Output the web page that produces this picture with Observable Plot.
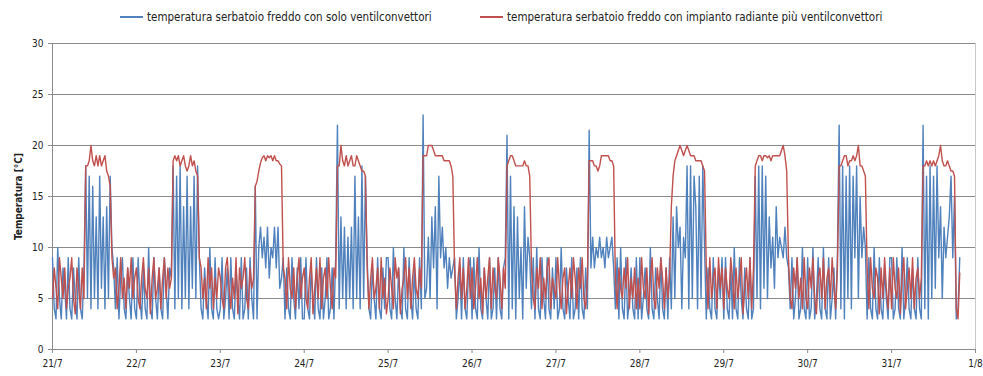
<!DOCTYPE html>
<html>
<head>
<meta charset="utf-8">
<script src="https://cdn.jsdelivr.net/npm/d3@7"></script>
<script src="https://cdn.jsdelivr.net/npm/@observablehq/plot@0.6"></script>
<style>
  html, body { margin: 0; padding: 0; background: #fff; }
  #wrap { position: relative; width: 983px; height: 376px; font-family: "Liberation Sans Narrow", "DejaVu Sans Condensed", sans-serif; }
  #legend { position: relative; height: 30px; width: 983px; font-size: 11.5px; color: #222; }
  .item { position: absolute; top: 10px; display: flex; align-items: center; white-space: nowrap; }
  .swatch { display: inline-block; width: 23px; height: 2px; margin-right: 4px; }
  #chart svg { display: block; }
</style>
</head>
<body>
<div id="wrap">
  <div id="legend"></div>
  <div id="chart"></div>
</div>
<script>
// Series names
const seriesNames = [
  "temperatura serbatoio freddo con solo ventilconvettori",
  "temperatura serbatoio freddo con impianto radiante più ventilconvettori"
];
const seriesColors = ["#4F81BD", "#C0504D"];

// x tick labels (one per day, 21/7 .. 1/8)
const tickLabels = ["21/7","22/7","23/7","24/7","25/7","26/7","27/7","28/7","29/7","30/7","31/7","1/8"];
const yTicks = [0, 5, 10, 15, 20, 25, 30];

// Half-hourly readings starting 21/7 00:00 (°C)
// blue: solo ventilconvettori
const blue = [
  // 21/7
  9,4,3,10,5,3,8,6,3,9,4,3,8,5,3,9,4,3,8,
  18,5,17,4,16,5,13,4,17,6,13,4,14,5,17,
  10,8,4,9,3,7,9,4,3,8,5,3,9,4,
  // 22/7
  3,9,5,3,8,4,3,10,4,3,9,5,3,8,4,3,9,6,3,8,7,
  18,4,17,5,18,4,14,5,17,4,14,6,17,5,18,
  9,4,3,8,5,3,10,4,3,9,4,3,
  // 23/7
  4,9,3,5,8,3,9,4,3,8,5,3,9,3,4,8,3,9,5,3,
  16,3,10,12,9,11,8,12,7,10,9,12,8,12,6,7,
  9,3,8,4,3,9,5,3,8,4,9,3,
  // 24/7
  3,9,4,3,8,5,3,9,4,3,8,3,5,9,3,4,8,3,9,
  22,4,13,5,12,4,11,5,12,4,17,5,13,4,18,5,17,
  9,4,3,8,5,3,9,4,3,8,4,9,
  // 25/7
  9,4,3,10,5,3,8,4,3,10,4,3,9,5,3,8,4,3,9,4,
  23,5,6,11,5,13,8,14,4,17,9,12,8,10,6,9,7,8,
  9,3,5,8,3,9,4,3,8,9,
  // 26/7
  3,9,4,3,10,4,3,8,5,3,9,3,4,8,3,9,4,3,8,9,
  21,3,17,4,14,3,13,5,10,3,14,6,11,9,
  4,9,3,10,4,3,9,5,3,9,4,3,8,4,
  // 27/7
  9,3,4,10,4,3,8,5,3,9,3,4,8,3,9,4,3,8,4,
  21.5,8,11,8,10,9,11,9,10,8,11,9,10,11,8,
  4,9,3,10,4,3,9,3,5,8,4,3,9,3,
  // 28/7
  9,3,5,8,4,3,10,4,3,8,5,3,9,4,3,8,3,9,
  4,13,5,14,10,12,4,11,9,18,4,18,5,17,14,4,17,5,18,10,
  3,8,4,3,9,4,3,8,5,9,
  // 29/7
  3,9,4,3,8,3,10,4,3,9,5,3,8,4,3,9,3,4,
  17,5,18,4,18,6,17,5,13,8,11,6,14,9,11,10,9,12,9,
  8,4,9,3,5,9,3,4,10,4,3,
  // 30/7
  9,3,4,10,3,5,9,4,3,10,4,3,9,3,5,8,3,9,
  22,4,18,3,17,5,18,4,17,9,18,5,15,9,12,10,
  3,9,4,3,10,4,3,9,4,3,8,5,3,9,
  // 31/7
  9,3,4,9,4,3,10,3,5,9,4,3,8,4,3,9,4,3,
  22,4,17,3,18,5,17,6,18,9,14,5,12,9,11,13,17,9,15,
  3,4,9
];
// red: impianto radiante più ventilconvettori
const red = [
  // 21/7
  5,8,6,4,9,7,5,8,4,6,7,9,5,3.5,8,6,4,8,5,
  18,18,18.5,20,18.5,18,19,18,19,18,18.5,19,17.5,17,16,
  9,7,8,4,6,9,5,7,4,8,6,9,5,7,
  // 22/7
  8,5,4,7,9,6,5,8,3.5,7,9,5,6,8,4,7,9,5,8,6,7,
  18.5,19,18.5,19,18,18.5,19,18,17.5,18,19,18,18.5,17.5,17,
  9,8,5,7,4,9,6,8,4,7,5,8,
  // 23/7
  7,5,4,8,9,6,4,7,5,9,3.5,8,6,7,9,5,4,8,6,7,
  16,16.5,17.5,18.3,18.8,19,18.5,19,18.8,19,18.5,19,18.5,18.5,18.2,18,
  8,7,4,9,6,5,8,4,7,9,5,7,
  // 24/7
  8,5,4,7,9,3.5,6,8,5,9,4,7,8,5,9,6,4,8,7,
  18,18,20,18.5,18,19,18,18.5,19,18,18,19,18.5,18,17.5,17.5,17,
  8,4,7,9,5,6,8,4,9,5,7,3.5,
  // 25/7
  5,8,6,4,9,7,8,3.5,6,7,9,5,8,4,7,9,6,5,8,6,
  19,19,19,20,20,20,19.5,19,19,19,19,19,18.5,18.5,18.5,18.5,18,17,
  8,4,7,9,5,8,4,6,9,5,
  // 26/7
  8,4,6,9,5,7,3.5,8,5,7,9,4,8,6,5,9,7,4,8,6,
  18,18.5,19,19,18.5,18,18,18,18,18,18.5,18,18,17,
  8,5,4,8,6,9,4,7,5,8,9,4,7,6,
  // 27/7
  5,9,6,4,7,8,3.5,6,8,5,9,7,4,8,6,9,5,4,7,
  18.5,18.5,18.5,18,18,17.5,18,19,19,19,19,19,18.5,18.5,18,
  7,4,8,6,5,8,6,9,4,7,5,8,4,7,
  // 28/7
  4,9,6,5,8,3.5,7,9,5,4,8,6,9,7,4,8,5,7,
  14,17,18.5,19,19.5,20,19.5,19,19.5,20,19.5,19,19,19,18.5,18.5,18.5,18.5,18,17.5,
  8,4,9,5,7,8,4,9,6,8,
  // 29/7
  4,8,6,5,9,7,4,8,5,7,9,3.5,6,8,5,9,4,8,
  18,18.5,19,19,18.5,19,19,18.8,19,18.5,19,19,19,19,19,19.5,20,19,17.5,
  9,5,4,8,6,9,5,7,4,9,5,
  // 30/7
  4,8,6,9,5,3.5,7,8,5,9,4,7,8,5,9,6,4,8,
  18,18,18.5,19,19,18,18.5,18.5,19,18.5,19,20,18,18,17.5,17,
  8,4,9,6,5,8,7,3.5,8,5,9,6,4,8,
  // 31/7
  4,9,6,5,8,3.5,7,9,4,6,8,5,9,4,7,8,5,7,
  18,18,18.5,18,18.5,18,18.5,18,18.5,19,20,18.5,18,18,18.5,18,17.5,17.5,17,
  4,3,7.5
];

const t0 = Date.UTC(2011, 6, 21);
const HALF_HOUR = 1800e3, DAY = 86400e3;
const toRows = (arr) => arr.map((v, i) => ({ t: new Date(t0 + i * HALF_HOUR), v }));
const blueRows = toRows(blue);
const redRows = toRows(red);
const dayTicks = tickLabels.map((_, i) => new Date(t0 + i * DAY));
const xEnd = dayTicks[dayTicks.length - 1];

// Legend
const legend = document.getElementById("legend");
const legendLeft = [120, 480];
seriesNames.forEach((name, i) => {
  const item = document.createElement("div");
  item.className = "item";
  item.style.left = legendLeft[i] + "px";
  const sw = document.createElement("span");
  sw.className = "swatch";
  sw.style.background = seriesColors[i];
  const tx = document.createElement("span");
  tx.textContent = name;
  item.appendChild(sw);
  item.appendChild(tx);
  legend.appendChild(item);
});

const chart = Plot.plot({
  width: 983,
  height: 346,
  marginTop: 13,
  marginBottom: 27,
  marginLeft: 52,
  marginRight: 8,
  style: { fontFamily: "'Liberation Sans Narrow', 'DejaVu Sans Condensed', sans-serif", fontSize: "10px", color: "#222", background: "#fff" },
  x: { type: "utc", domain: [dayTicks[0], xEnd] },
  y: { domain: [0, 30] },
  marks: [
    Plot.gridY(yTicks.filter(d => d > 0), { stroke: "#8a8a8a", strokeOpacity: 1, strokeWidth: 1 }),
    Plot.ruleX([xEnd], { stroke: "#c8c8c8" }),
    Plot.ruleY([0], { stroke: "#8a8a8a" }),
    Plot.ruleX([dayTicks[0]], { stroke: "#8a8a8a" }),
    Plot.lineY(blueRows, { x: "t", y: "v", stroke: seriesColors[0], strokeWidth: 1.4 }),
    Plot.lineY(redRows, { x: "t", y: "v", stroke: seriesColors[1], strokeWidth: 1.4 }),
    Plot.axisY({
      ticks: yTicks, tickSize: 4, tickPadding: 5, stroke: "#8a8a8a",
      label: "Temperatura [°C]", labelAnchor: "center", labelArrow: "none", labelOffset: 38,
      fontSize: 10
    }),
    Plot.axisX({
      ticks: dayTicks, tickSize: 4, tickPadding: 6, stroke: "#8a8a8a",
      tickFormat: (d, i) => tickLabels[i], label: null, fontSize: 10
    })
  ]
});
document.getElementById("chart").appendChild(chart);
// bold y-axis title
chart.querySelectorAll("g[aria-label='y-axis label'] text").forEach(t => {
  t.style.fontWeight = "bold";
});
</script>
</body>
</html>
